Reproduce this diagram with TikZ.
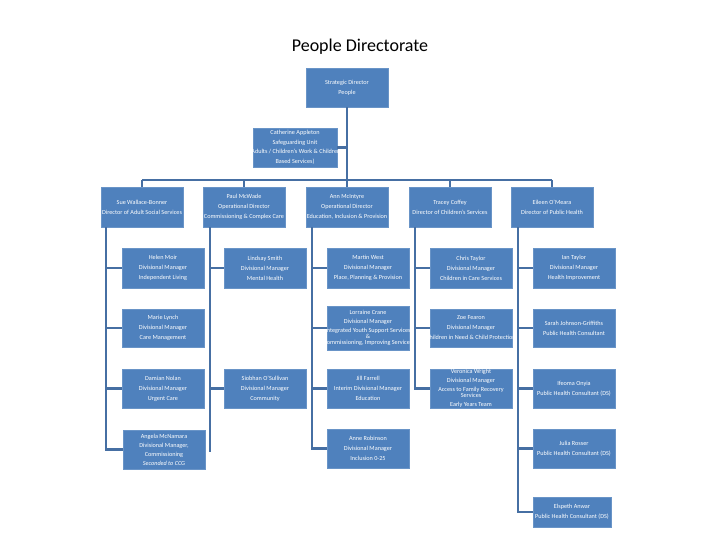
\documentclass[tikz,border=0pt]{standalone}
\usepackage{fontspec}
\setmainfont{Carlito}
\definecolor{boxblue}{HTML}{4F81BD}
\definecolor{linkblue}{HTML}{466FA3}
\newcommand{\ovl}[1]{\makebox[70pt]{#1}}
\begin{document}
\begin{tikzpicture}[x=1pt,y=-1pt,
  box/.style={fill=boxblue,draw=boxblue!85!white,line width=0.6pt,text=white,align=center,
    minimum width=82pt,minimum height=40pt,inner sep=0.5pt,font=\fontsize{6.2}{10}\selectfont},
  link/.style={draw=linkblue,line width=2.8pt},
  bus/.style={draw=linkblue,line width=2.2pt}]
\useasboundingbox[fill=white] (0,0) rectangle (720,540);
\node[font=\fontsize{18}{20}\selectfont] (title) at (360,47) {People Directorate};
% top
\node[box,minimum height=39pt] (sd) at (347,87.5) {Strategic Director\\People};
\node[box,minimum width=84pt,minimum height=39pt,font=\fontsize{6.2}{9.5}\selectfont] (sg) at (295,147.5)
  {Catherine Appleton\\Safeguarding Unit\\\ovl{(Adults / Children's Work \& Children}\\Based Services)};
% row 1
\node[box] (a1) at (142,207) {Sue Wallace-Bonner\\\ovl{Director of Adult Social Services}};
\node[box] (b1) at (244,207) {Paul McWade\\Operational Director\\\ovl{Commissioning \& Complex Care}};
\node[box] (c1) at (347,207) {Ann McIntyre\\Operational Director\\\ovl{Education, Inclusion \& Provision}};
\node[box] (d1) at (450,207) {Tracey Coffey\\Director of Children's Services};
\node[box] (e1) at (552,207) {Eileen O'Meara\\Director of Public Health};
% column A
\node[box] (a2) at (163,268) {Helen Moir\\Divisional Manager\\Independent Living};
\node[box,minimum height=38pt] (a3) at (163,328) {Marie Lynch\\Divisional Manager\\Care Management};
\node[box,minimum height=39pt] (a4) at (163,388.5) {Damian Nolan\\Divisional Manager\\Urgent Care};
\node[box,minimum height=39pt,font=\fontsize{6.2}{9}\selectfont] (a5) at (164,449.5) {Angela McNamara\\Divisional Manager,\\Commissioning\\\textit{Seconded to CCG}};
% column B
\node[box] (b2) at (265,268) {Lindsay Smith\\Divisional Manager\\Mental Health};
\node[box,minimum height=39pt] (b4) at (265,388.5) {Siobhan O'Sullivan\\Divisional Manager\\Community};
% column C
\node[box] (c2) at (368,268) {Martin West\\Divisional Manager\\Place, Planning \& Provision};
\node[box,minimum height=44pt,font=\fontsize{6.2}{9}\selectfont] (c3) at (368,328) {Lorraine Crane\\Divisional Manager\\\ovl{Integrated Youth Support Services}\\[-3pt]\&\\[-3pt]\ovl{Commissioning, Improving Services}};
\node[box,minimum height=39pt] (c4) at (368,388.5) {Jill Farrell\\Interim Divisional Manager\\Education};
\node[box,minimum height=39pt] (c5) at (368,448.5) {Anne Robinson\\Divisional Manager\\Inclusion 0-25};
% column D
\node[box] (d2) at (471,268) {Chris Taylor\\Divisional Manager\\Children in Care Services};
\node[box,minimum height=38pt] (d3) at (471,328) {Zoe Fearon\\Divisional Manager\\\ovl{Children in Need \& Child Protection}};
\node[box,minimum height=39pt,font=\fontsize{6.2}{9}\selectfont] (d4) at (471,388.5) {Veronica Wright\\Divisional Manager\\\ovl{Access to Family Recovery}\\[-3pt]Services\\Early Years Team};
% column E
\node[box] (e2) at (574,268) {Ian Taylor\\Divisional Manager\\Health Improvement};
\node[box,minimum height=38pt] (e3) at (574,328) {Sarah Johnson-Griffiths\\Public Health Consultant};
\node[box,minimum height=39pt] (e4) at (574,388.5) {Ifeoma Onyia\\\ovl{Public Health Consultant (DS)}};
\node[box,minimum height=39pt] (e5) at (574,448.5) {Julia Rosser\\\ovl{Public Health Consultant (DS)}};
\node[box,minimum width=78pt,minimum height=30pt] (e6) at (572,512) {Elspeth Anwar\\\ovl{Public Health Consultant (DS)}};
% top connectors
\coordinate (busc) at (347,180);
\draw[bus] (sd.south) -- (busc);
\draw[bus] (sg.east) -- (sg.east -| busc);
\draw[bus] (a1.north |- busc) -- (e1.north |- busc);
\foreach \n in {a1,b1,c1,d1,e1} \draw[bus] (\n.north |- busc) -- (\n.north);
% column spines
\coordinate (sa) at ([xshift=5pt]a1.south west);
\coordinate (sb) at ([xshift=7pt]b1.south west);
\coordinate (sc) at ([xshift=6pt]c1.south west);
\coordinate (sd2) at ([xshift=6pt]d1.south west);
\coordinate (se) at ([xshift=7pt]e1.south west);
\coordinate (sbend) at (sb |- 0,452);
\draw[bus] (sa) -- (sa |- a5.west) -- (a5.west);
\draw[bus] (sb) -- (sbend);
\draw[bus] (sc) -- (sc |- c5.west) -- (c5.west);
\draw[bus] (sd2) -- (sd2 |- d4.west) -- (d4.west);
\draw[bus] (se) -- (se |- e6.west) -- (e6.west);
\foreach \n in {a2,a3,a4} \draw[link] (sa |- \n.west) -- (\n.west);
\foreach \n in {b2,b4} \draw[link] (sb |- \n.west) -- (\n.west);
\foreach \n in {c2,c3,c4} \draw[link] (sc |- \n.west) -- (\n.west);
\foreach \n in {d2,d3} \draw[link] (sd2 |- \n.west) -- (\n.west);
\foreach \n in {e2,e3,e4,e5} \draw[link] (se |- \n.west) -- (\n.west);
\end{tikzpicture}
\end{document}
